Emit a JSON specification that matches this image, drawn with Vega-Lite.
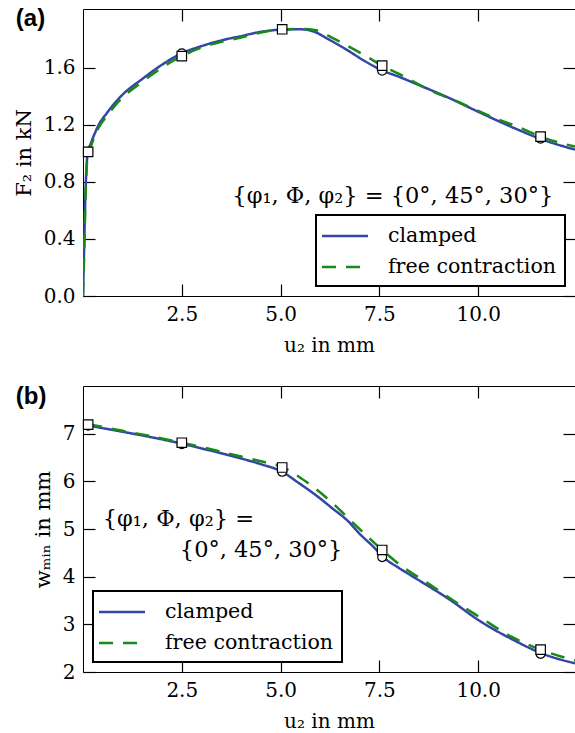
{
  "$schema": "https://vega.github.io/schema/vega-lite/v6.json",
  "background": "white",
  "padding": {"left": 12, "top": 6, "right": 0, "bottom": 0},
  "bounds": "flush",
  "spacing": 90,
  "datasets": {
    "forceLines": [
      {"series": "clamped", "u": 0, "F": 0},
      {"series": "clamped", "u": 0.03, "F": 0.35},
      {"series": "clamped", "u": 0.06, "F": 0.7},
      {"series": "clamped", "u": 0.1, "F": 0.95},
      {"series": "clamped", "u": 0.13, "F": 1.01},
      {"series": "clamped", "u": 0.2, "F": 1.07},
      {"series": "clamped", "u": 0.3, "F": 1.14},
      {"series": "clamped", "u": 0.4, "F": 1.2},
      {"series": "clamped", "u": 0.6, "F": 1.28},
      {"series": "clamped", "u": 0.8, "F": 1.35},
      {"series": "clamped", "u": 1.0, "F": 1.41},
      {"series": "clamped", "u": 1.5, "F": 1.52},
      {"series": "clamped", "u": 2.0, "F": 1.62},
      {"series": "clamped", "u": 2.5, "F": 1.7},
      {"series": "clamped", "u": 3.0, "F": 1.75},
      {"series": "clamped", "u": 3.5, "F": 1.79},
      {"series": "clamped", "u": 4.0, "F": 1.82},
      {"series": "clamped", "u": 4.5, "F": 1.85},
      {"series": "clamped", "u": 5.0, "F": 1.865},
      {"series": "clamped", "u": 5.5, "F": 1.868},
      {"series": "clamped", "u": 5.86, "F": 1.85},
      {"series": "clamped", "u": 6.2, "F": 1.8},
      {"series": "clamped", "u": 6.7, "F": 1.72},
      {"series": "clamped", "u": 7.1, "F": 1.65},
      {"series": "clamped", "u": 7.57, "F": 1.58},
      {"series": "clamped", "u": 8.0, "F": 1.535},
      {"series": "clamped", "u": 8.39, "F": 1.49},
      {"series": "clamped", "u": 9.24, "F": 1.39},
      {"series": "clamped", "u": 10.08, "F": 1.28},
      {"series": "clamped", "u": 10.92, "F": 1.175},
      {"series": "clamped", "u": 11.58, "F": 1.1},
      {"series": "clamped", "u": 12.45, "F": 1.025},
      {"series": "free contraction", "u": 0, "F": 0},
      {"series": "free contraction", "u": 0.03, "F": 0.3},
      {"series": "free contraction", "u": 0.06, "F": 0.65},
      {"series": "free contraction", "u": 0.1, "F": 0.93},
      {"series": "free contraction", "u": 0.13, "F": 1.0},
      {"series": "free contraction", "u": 0.2, "F": 1.05},
      {"series": "free contraction", "u": 0.3, "F": 1.12},
      {"series": "free contraction", "u": 0.4, "F": 1.18},
      {"series": "free contraction", "u": 0.6, "F": 1.26},
      {"series": "free contraction", "u": 0.8, "F": 1.33},
      {"series": "free contraction", "u": 1.0, "F": 1.39},
      {"series": "free contraction", "u": 1.5, "F": 1.5},
      {"series": "free contraction", "u": 2.0, "F": 1.6},
      {"series": "free contraction", "u": 2.5, "F": 1.68},
      {"series": "free contraction", "u": 3.0, "F": 1.74},
      {"series": "free contraction", "u": 3.5, "F": 1.78},
      {"series": "free contraction", "u": 4.0, "F": 1.81},
      {"series": "free contraction", "u": 4.5, "F": 1.845},
      {"series": "free contraction", "u": 5.0, "F": 1.865},
      {"series": "free contraction", "u": 5.5, "F": 1.87},
      {"series": "free contraction", "u": 5.86, "F": 1.863},
      {"series": "free contraction", "u": 6.3, "F": 1.81},
      {"series": "free contraction", "u": 6.7, "F": 1.75},
      {"series": "free contraction", "u": 7.1, "F": 1.69},
      {"series": "free contraction", "u": 7.57, "F": 1.613},
      {"series": "free contraction", "u": 8.0, "F": 1.555},
      {"series": "free contraction", "u": 8.73, "F": 1.448},
      {"series": "free contraction", "u": 9.57, "F": 1.35},
      {"series": "free contraction", "u": 10.33, "F": 1.256},
      {"series": "free contraction", "u": 11.09, "F": 1.175},
      {"series": "free contraction", "u": 11.58, "F": 1.116},
      {"series": "free contraction", "u": 12.45, "F": 1.046}
    ],
    "forcePts": [
      {"series": "clamped", "u": 0.13, "F": 1.01},
      {"series": "clamped", "u": 2.5, "F": 1.7},
      {"series": "clamped", "u": 5.04, "F": 1.868},
      {"series": "clamped", "u": 7.57, "F": 1.578},
      {"series": "clamped", "u": 11.58, "F": 1.102},
      {"series": "free contraction", "u": 0.13, "F": 1.01},
      {"series": "free contraction", "u": 2.5, "F": 1.68},
      {"series": "free contraction", "u": 5.04, "F": 1.868},
      {"series": "free contraction", "u": 7.57, "F": 1.613},
      {"series": "free contraction", "u": 11.58, "F": 1.116}
    ],
    "widthLines": [
      {"series": "clamped", "u": 0.13, "w": 7.17},
      {"series": "clamped", "u": 1.0, "w": 7.04},
      {"series": "clamped", "u": 2.0, "w": 6.88},
      {"series": "clamped", "u": 2.5, "w": 6.79},
      {"series": "clamped", "u": 3.0, "w": 6.69},
      {"series": "clamped", "u": 4.0, "w": 6.48},
      {"series": "clamped", "u": 4.5, "w": 6.36},
      {"series": "clamped", "u": 5.04, "w": 6.2},
      {"series": "clamped", "u": 5.45, "w": 5.97},
      {"series": "clamped", "u": 5.86, "w": 5.73},
      {"series": "clamped", "u": 6.3, "w": 5.44},
      {"series": "clamped", "u": 6.7, "w": 5.17},
      {"series": "clamped", "u": 7.0, "w": 4.9},
      {"series": "clamped", "u": 7.38, "w": 4.6},
      {"series": "clamped", "u": 7.57, "w": 4.43},
      {"series": "clamped", "u": 8.0, "w": 4.18},
      {"series": "clamped", "u": 8.39, "w": 3.98},
      {"series": "clamped", "u": 9.24, "w": 3.54},
      {"series": "clamped", "u": 10.08, "w": 3.05},
      {"series": "clamped", "u": 10.92, "w": 2.66},
      {"series": "clamped", "u": 11.58, "w": 2.4},
      {"series": "clamped", "u": 12.45, "w": 2.18},
      {"series": "free contraction", "u": 0.13, "w": 7.2},
      {"series": "free contraction", "u": 1.0, "w": 7.06},
      {"series": "free contraction", "u": 2.0, "w": 6.9},
      {"series": "free contraction", "u": 2.5, "w": 6.81},
      {"series": "free contraction", "u": 3.0, "w": 6.72},
      {"series": "free contraction", "u": 4.0, "w": 6.52},
      {"series": "free contraction", "u": 4.5, "w": 6.42},
      {"series": "free contraction", "u": 5.04, "w": 6.3},
      {"series": "free contraction", "u": 5.65, "w": 5.99},
      {"series": "free contraction", "u": 6.28, "w": 5.57},
      {"series": "free contraction", "u": 6.87, "w": 5.1},
      {"series": "free contraction", "u": 7.57, "w": 4.56},
      {"series": "free contraction", "u": 8.05, "w": 4.23},
      {"series": "free contraction", "u": 8.73, "w": 3.86},
      {"series": "free contraction", "u": 9.41, "w": 3.48},
      {"series": "free contraction", "u": 10.08, "w": 3.13},
      {"series": "free contraction", "u": 10.84, "w": 2.74},
      {"series": "free contraction", "u": 11.58, "w": 2.47},
      {"series": "free contraction", "u": 12.45, "w": 2.24}
    ],
    "widthPts": [
      {"series": "clamped", "u": 0.13, "w": 7.17},
      {"series": "clamped", "u": 2.5, "w": 6.78},
      {"series": "clamped", "u": 5.04, "w": 6.2},
      {"series": "clamped", "u": 7.57, "w": 4.41},
      {"series": "clamped", "u": 11.58, "w": 2.38},
      {"series": "free contraction", "u": 0.13, "w": 7.19},
      {"series": "free contraction", "u": 2.5, "w": 6.81},
      {"series": "free contraction", "u": 5.04, "w": 6.29},
      {"series": "free contraction", "u": 7.57, "w": 4.56},
      {"series": "free contraction", "u": 11.58, "w": 2.47}
    ]
  },
  "resolve": {"scale": {"color": "independent", "strokeDash": "independent"}},
  "vconcat": [
    {
      "width": 492,
      "height": 287,
      "layer": [
        {
          "data": {"name": "forceLines"},
          "mark": {"type": "line", "interpolate": "monotone", "strokeWidth": 2.5, "clip": true},
          "encoding": {
            "x": {"field": "u", "type": "quantitative", "scale": {"domain": [0, 12.45], "nice": false, "zero": false},
                  "axis": {"orient": "bottom", "values": [2.5, 5, 7.5, 10], "format": ".1f", "title": "u₂ in mm"}},
            "y": {"field": "F", "type": "quantitative", "scale": {"domain": [0, 2.01], "nice": false},
                  "axis": {"orient": "left", "values": [0, 0.4, 0.8, 1.2, 1.6], "format": ".1f", "title": "F₂ in kN"}},
            "color": {"field": "series", "type": "nominal", "scale": {"domain": ["clamped", "free contraction"], "range": ["#3446a5", "#188a18"]},
                      "legend": {"orient": "bottom-right", "offset": 10, "title": null}},
            "strokeDash": {"field": "series", "type": "nominal", "scale": {"domain": ["clamped", "free contraction"], "range": [[1, 0], [14, 10]]},
                           "legend": {"orient": "bottom-right", "offset": 10, "title": null}}
          }
        },
        {
          "data": {"name": "forcePts"},
          "transform": [{"filter": "datum.series === 'clamped'"}],
          "mark": {"type": "point", "shape": "circle", "filled": true, "fill": "white", "stroke": "black", "strokeWidth": 1.2, "size": 80, "opacity": 1},
          "encoding": {
            "x": {"field": "u", "type": "quantitative", "axis": {"orient": "top", "values": [2.5, 5, 7.5, 10], "labels": false, "title": null}},
            "y": {"field": "F", "type": "quantitative", "axis": {"orient": "right", "values": [0, 0.4, 0.8, 1.2, 1.6], "labels": false, "title": null}}
          }
        },
        {
          "data": {"name": "forcePts"},
          "transform": [{"filter": "datum.series === 'free contraction'"}],
          "mark": {"type": "point", "shape": "square", "filled": true, "fill": "white", "stroke": "black", "strokeWidth": 1.2, "size": 90, "opacity": 1},
          "encoding": {
            "x": {"field": "u", "type": "quantitative", "axis": null},
            "y": {"field": "F", "type": "quantitative", "axis": null}
          }
        },
        {
          "data": {"values": [{"label": "{φ₁, Φ, φ₂} = {0°, 45°, 30°}"}]},
          "mark": {"type": "text", "font": "DejaVu Serif", "fontSize": 22.5, "align": "center", "baseline": "middle", "color": "black"},
          "encoding": {
            "x": {"datum": 7.84, "type": "quantitative", "axis": null},
            "y": {"datum": 0.7, "type": "quantitative", "axis": null},
            "text": {"field": "label", "type": "nominal"}
          }
        },
        {
          "data": {"values": [{"label": "(a)"}]},
          "mark": {"type": "text", "font": "Liberation Sans", "fontSize": 24, "fontWeight": "bold", "align": "left", "baseline": "middle", "color": "black"},
          "encoding": {
            "x": {"datum": -1.7, "type": "quantitative", "axis": null},
            "y": {"datum": 1.94, "type": "quantitative", "axis": null},
            "text": {"field": "label", "type": "nominal"}
          }
        }
      ]
    },
    {
      "width": 492,
      "height": 286,
      "layer": [
        {
          "data": {"name": "widthLines"},
          "mark": {"type": "line", "interpolate": "monotone", "strokeWidth": 2.5, "clip": true},
          "encoding": {
            "x": {"field": "u", "type": "quantitative", "scale": {"domain": [0, 12.45], "nice": false, "zero": false},
                  "axis": {"orient": "bottom", "values": [2.5, 5, 7.5, 10], "format": ".1f", "title": "u₂ in mm"}},
            "y": {"field": "w", "type": "quantitative", "scale": {"domain": [2, 8], "nice": false, "zero": false},
                  "axis": {"orient": "left", "values": [2, 3, 4, 5, 6, 7], "format": "d", "title": "wₘᵢₙ in mm"}},
            "color": {"field": "series", "type": "nominal", "scale": {"domain": ["clamped", "free contraction"], "range": ["#3446a5", "#188a18"]},
                      "legend": {"orient": "bottom-left", "offset": 10, "title": null}},
            "strokeDash": {"field": "series", "type": "nominal", "scale": {"domain": ["clamped", "free contraction"], "range": [[1, 0], [14, 10]]},
                           "legend": {"orient": "bottom-left", "offset": 10, "title": null}}
          }
        },
        {
          "data": {"name": "widthPts"},
          "transform": [{"filter": "datum.series === 'clamped'"}],
          "mark": {"type": "point", "shape": "circle", "filled": true, "fill": "white", "stroke": "black", "strokeWidth": 1.2, "size": 80, "opacity": 1},
          "encoding": {
            "x": {"field": "u", "type": "quantitative", "axis": {"orient": "top", "values": [2.5, 5, 7.5, 10], "labels": false, "title": null}},
            "y": {"field": "w", "type": "quantitative", "axis": {"orient": "right", "values": [2, 3, 4, 5, 6, 7], "labels": false, "title": null}}
          }
        },
        {
          "data": {"name": "widthPts"},
          "transform": [{"filter": "datum.series === 'free contraction'"}],
          "mark": {"type": "point", "shape": "square", "filled": true, "fill": "white", "stroke": "black", "strokeWidth": 1.2, "size": 90, "opacity": 1},
          "encoding": {
            "x": {"field": "u", "type": "quantitative", "axis": null},
            "y": {"field": "w", "type": "quantitative", "axis": null}
          }
        },
        {
          "data": {"values": [{"label": "{φ₁, Φ, φ₂} ="}]},
          "mark": {"type": "text", "font": "DejaVu Serif", "fontSize": 22.5, "align": "left", "baseline": "middle", "color": "black"},
          "encoding": {
            "x": {"datum": 0.5, "type": "quantitative", "axis": null},
            "y": {"datum": 5.22, "type": "quantitative", "axis": null},
            "text": {"field": "label", "type": "nominal"}
          }
        },
        {
          "data": {"values": [{"label": "{0°, 45°, 30°}"}]},
          "mark": {"type": "text", "font": "DejaVu Serif", "fontSize": 22.5, "align": "left", "baseline": "middle", "color": "black"},
          "encoding": {
            "x": {"datum": 2.45, "type": "quantitative", "axis": null},
            "y": {"datum": 4.55, "type": "quantitative", "axis": null},
            "text": {"field": "label", "type": "nominal"}
          }
        },
        {
          "data": {"values": [{"label": "(b)"}]},
          "mark": {"type": "text", "font": "Liberation Sans", "fontSize": 24, "fontWeight": "bold", "align": "left", "baseline": "middle", "color": "black"},
          "encoding": {
            "x": {"datum": -1.7, "type": "quantitative", "axis": null},
            "y": {"datum": 7.77, "type": "quantitative", "axis": null},
            "text": {"field": "label", "type": "nominal"}
          }
        }
      ]
    }
  ],
  "config": {
    "font": "DejaVu Serif",
    "view": {"stroke": "black", "strokeWidth": 1},
    "axis": {
      "labelFont": "DejaVu Serif", "labelFontSize": 20, "labelColor": "black",
      "titleFont": "DejaVu Serif", "titleFontSize": 20, "titleFontWeight": "normal", "titleColor": "black",
      "tickColor": "black", "tickSize": -12, "tickWidth": 1.2, "domain": false, "grid": false,
      "labelFlush": false, "labelOverlap": false, "labelPadding": 20
    },
    "axisX": {"titlePadding": 11},
    "axisY": {"titlePadding": 9, "titleFontSize": 21},
    "legend": {
      "labelFont": "DejaVu Serif", "labelFontSize": 20.6, "labelColor": "black", "labelLimit": 400,
      "symbolType": "M-2,0H2", "symbolSize": 529, "symbolStrokeWidth": 2.5, "symbolOffset": 8,
      "strokeColor": "black", "strokeWidth": 2, "fillColor": "white",
      "padding": 8, "rowPadding": 7, "labelOffset": 30, "cornerRadius": 0
    }
  }
}
